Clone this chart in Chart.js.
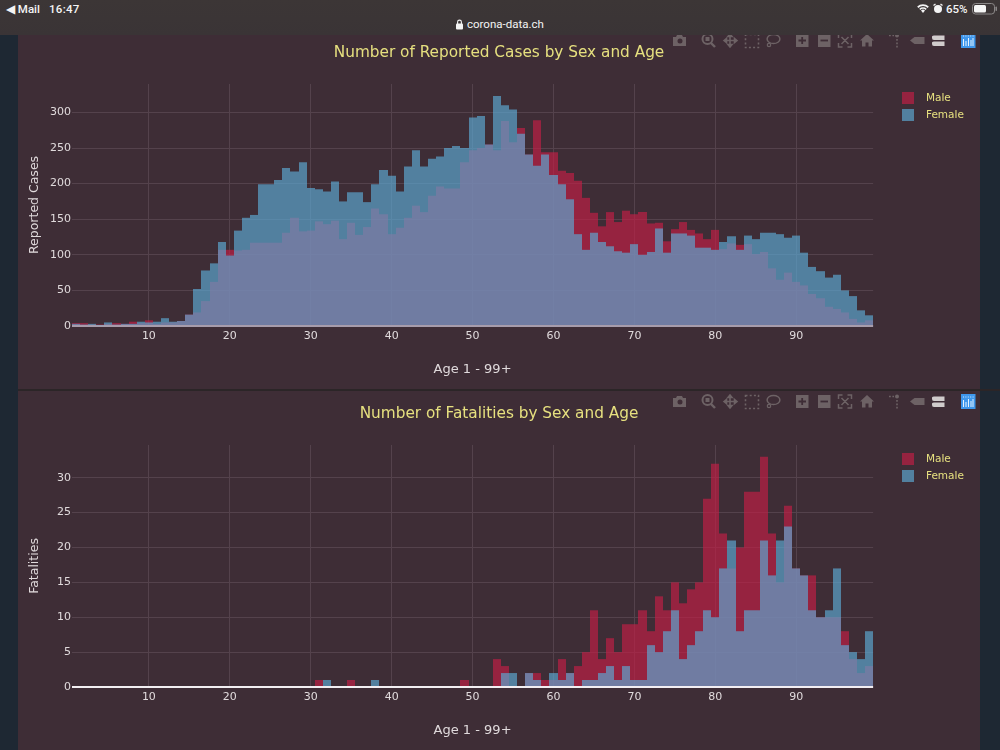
<!DOCTYPE html>
<html><head><meta charset="utf-8">
<script src="https://cdn.jsdelivr.net/npm/chart.js@4/dist/chart.umd.min.js"></script>
<style>
html,body{margin:0;padding:0;width:1000px;height:750px;overflow:hidden;background:#1e2833;font-family:"DejaVu Sans",sans-serif}
.panel{position:absolute;left:18px;width:962px;background:#3e2d36}
#p1{top:0;height:389px}#p2{top:391px;height:359px}
#divider{position:absolute;left:18px;width:982px;top:389px;height:2px;background:#2b2527}
canvas{position:absolute;left:18px;display:block}
#c1{top:29px}#c2{top:391px}
#status{position:absolute;left:0;top:0;width:1000px;height:35px;background:linear-gradient(#3c3636,#3a3436);color:#f4f4f4;font-family:Roboto,sans-serif;font-size:11.5px;font-weight:500}
#status span{position:absolute;top:2px;white-space:nowrap}
svg.mb{position:absolute;left:0;width:1000px;height:24px}
</style></head><body>
<div class="panel" id="p1"></div><div class="panel" id="p2"></div><div id="divider"></div>
<canvas id="c1"></canvas><canvas id="c2"></canvas>
<svg class="mb" style="top:29px" id="mb1"></svg><svg class="mb" style="top:390px" id="mb2"></svg>
<div id="status">
<span style="left:6px">&#9664; Mail</span><span style="left:49px;letter-spacing:.3px">16:47</span>
<span style="left:467px;top:17px;font-weight:400;font-size:11.5px">corona-data.ch</span>
<svg style="position:absolute;left:455px;top:19px" width="9" height="11"><rect x="1" y="4.5" width="7" height="6" rx="1" fill="#f4f4f4"/><path d="M2.6 5V3a1.9 1.9 0 0 1 3.8 0v2" fill="none" stroke="#f4f4f4" stroke-width="1.1"/></svg>
<svg style="position:absolute;left:916px;top:3px" width="14" height="11"><path d="M7 10 L5 7.5 A3 3 0 0 1 9 7.5Z M3.3 5.8 A5.5 5.5 0 0 1 10.7 5.8 L9.7 7 A4 4 0 0 0 4.3 7Z M1.2 3.6 A8.5 8.5 0 0 1 12.8 3.6 L11.7 4.9 A7 7 0 0 0 2.3 4.9Z" fill="#f4f4f4"/></svg>
<svg style="position:absolute;left:932px;top:3px" width="12" height="11"><circle cx="6" cy="6" r="4" fill="#f4f4f4"/><path d="M1.5 2.5 L3.5 1 M10.5 2.5 L8.5 1" stroke="#f4f4f4" stroke-width="1.4"/></svg>
<span style="left:946px">65%</span>
<svg style="position:absolute;left:972px;top:3px" width="26" height="12"><rect x=".5" y=".5" width="22" height="10.5" rx="3" fill="none" stroke="#8a8787"/><rect x="2" y="2" width="12" height="7.5" rx="1.5" fill="#f6f6f6"/><rect x="23.5" y="3.5" width="1.5" height="4.5" rx=".7" fill="#8a8787"/></svg>
</div>
<script>
const ages = [1,2,3,4,5,6,7,8,9,10,11,12,13,14,15,16,17,18,19,20,21,22,23,24,25,26,27,28,29,30,31,32,33,34,35,36,37,38,39,40,41,42,43,44,45,46,47,48,49,50,51,52,53,54,55,56,57,58,59,60,61,62,63,64,65,66,67,68,69,70,71,72,73,74,75,76,77,78,79,80,81,82,83,84,85,86,87,88,89,90,91,92,93,94,95,96,97,98,99];
const casesMale = [4,4,2,2,3,4,3,6,4,8,3,5,5,7,16,19,35,62,107,107,106,107,117,117,117,117,131,152,133,134,147,143,148,122,145,128,139,165,157,129,138,152,169,160,183,196,193,193,230,247,250,255,247,288,258,278,241,289,244,244,218,215,204,180,159,140,160,146,162,157,160,144,145,119,136,146,135,130,122,135,108,116,114,115,101,104,81,65,75,62,57,45,39,27,24,19,10,5,8];
const casesFemale = [3,2,3,1,5,2,3,3,6,5,6,11,6,7,16,52,78,88,118,99,134,152,156,199,199,205,222,217,230,194,192,189,203,175,188,188,174,199,219,211,189,224,247,224,235,238,250,253,250,293,295,255,323,310,304,270,241,225,241,212,199,178,129,107,131,118,112,105,103,115,100,104,137,103,130,130,127,110,110,107,118,126,107,127,122,131,131,129,124,127,103,83,77,68,72,50,42,22,15];
const deathsMale = [0,0,0,0,0,0,0,0,0,0,0,0,0,0,0,0,0,0,0,0,0,0,0,0,0,0,0,0,0,0,1,0,0,0,1,0,0,0,0,0,0,0,0,0,0,0,0,0,1,0,0,0,4,3,0,0,2,2,1,1,4,2,3,5,11,4,7,5,9,9,11,8,13,11,15,12,14,15,27,32,22,17,20,28,28,33,22,15,26,17,16,16,10,10,10,8,4,2,3];
const deathsFemale = [0,0,0,0,0,0,0,0,0,0,0,0,0,0,0,0,0,0,0,0,0,0,0,0,0,0,0,0,0,0,0,1,0,0,0,0,0,1,0,0,0,0,0,0,0,0,0,0,0,0,0,0,0,2,2,0,2,1,0,2,1,2,0,1,1,2,3,1,3,1,1,6,5,8,11,4,6,8,11,10,17,21,8,11,11,21,16,21,23,17,16,11,10,11,17,6,5,4,8];
const yTicksCases = [0,50,100,150,200,250,300];
const yTicksDeaths = [0,5,10,15,20,25,30];
const xTickAges = [10,20,30,40,50,60,70,80,90];

const panelColor='#3e2d36', gridColor='#54424c', tickColor='#e0dadc', yellow='#e6e07f';
const font='"DejaVu Sans", sans-serif';
const W=962,PLOT_L=54;

const place={id:'place',
  afterLayout(c){
    const l=c.legend;
    l.left=879;l.right=W;l.top=c.canvas.id==='c1'?58:57;l.bottom=l.top+60;
    c.titleBlock.left=0;c.titleBlock.right=W;
  },
  beforeDatasetsDraw(c){
    c.getSortedVisibleDatasetMetas().forEach(m=>m.data.forEach(el=>{
      const a=Math.round(el.x-el.width/2),b=Math.round(el.x+el.width/2);
      el.x=(a+b)/2;el.width=b-a;
    }));
  }
};

function makeChart(id,H,titleTop,title,yLabel,male,female,yMax,yTicks,zeroColor){
  const el=document.getElementById(id);
  el.style.width=W+'px';el.style.height=H+'px';el.width=W;el.height=H;
  new Chart(el,{type:'bar',plugins:[place],
   data:{labels:ages,datasets:[
    {label:'Male',data:male,backgroundColor:'rgba(196,30,70,0.66)',order:2,barPercentage:1,categoryPercentage:1,borderWidth:0,inflateAmount:0},
    {label:'Female',data:female,backgroundColor:'rgba(92,172,214,0.66)',order:1,barPercentage:1,categoryPercentage:1,borderWidth:0,inflateAmount:0}
   ]},
   options:{responsive:false,animation:false,devicePixelRatio:1,
    datasets:{bar:{grouped:false}},
    layout:{padding:{left:0,right:30,top:0,bottom:12}},
    plugins:{
     title:{display:true,text:title,color:yellow,font:{family:font,size:15.3,weight:'normal'},padding:{top:titleTop,bottom:21.6}},
     legend:{display:true,position:'right',align:'start',
       labels:{color:yellow,font:{family:font,size:10.5},boxWidth:12,boxHeight:12,padding:5,
         sort:(a,b)=>a.datasetIndex-b.datasetIndex,
         generateLabels(c){
           const base=Chart.defaults.plugins.legend.labels.generateLabels(c);
           base.forEach(i=>{i.text='  '+i.text;});
           return base;
         }}},
     tooltip:{enabled:false}
    },
    scales:{
     x:{type:'category',offset:true,
       grid:{color:gridColor,lineWidth:1,offset:false,drawTicks:false},
       border:{display:false},
       afterBuildTicks(s){s.ticks=s.ticks.filter(t=>xTickAges.includes(ages[t.value]));},
       ticks:{color:tickColor,font:{family:font,size:11},autoSkip:false,maxRotation:0,padding:4,
         callback(v){return ages[v];}},
       title:{display:true,text:'Age 1 - 99+',color:tickColor,font:{family:font,size:13},padding:{top:14,bottom:0}},
       afterFit(s){s.height=51;}
     },
     y:{min:0,max:yMax,
       grid:{drawTicks:false,color:c=>c.tick.value===0?zeroColor:gridColor,lineWidth:c=>c.tick.value===0?2:1},
       border:{display:false},
       afterBuildTicks(s){s.ticks=yTicks.map(v=>({value:v}));},
       ticks:{color:tickColor,font:{family:font,size:11},padding:1,includeBounds:false},
       title:{display:true,text:yLabel,color:tickColor,font:{family:font,size:12.5},padding:{top:9,bottom:0}},
       afterFit(s){s.width=PLOT_L;}
     }
    }
   }
  });
}
makeChart('c1',360,15,'Number of Reported Cases by Sex and Age','Reported Cases',casesMale,casesFemale,340,yTicksCases,'#a79cab');
makeChart('c2',359,14,'Number of Fatalities by Sex and Age','Fatalities',deathsMale,deathsFemale,34.7,yTicksDeaths,'#f2eef2');

const g='#6d6265', g2='#d0cccc';
const icons=`
<path d="M673 8h3l1-2h5l1 2h3v9h-13z M680 14.5a2.5 2.5 0 1 0 0-5a2.5 2.5 0 0 0 0 5z" fill="${g}" fill-rule="evenodd"/>
<circle cx="707.5" cy="10" r="5" fill="none" stroke="${g}" stroke-width="2"/><rect x="705.5" y="8" width="4" height="4" fill="${g}"/><path d="M711 14l4 4" stroke="${g}" stroke-width="2.4"/>
<path d="M730 5v13M724 11.5h13M730 5l-2 2.5h4zM730 18l-2-2.5h4zM724 11.5l2.5-2v4zM737 11.5l-2.5-2v4z" fill="${g}" stroke="${g}" stroke-width="1.6"/>
<rect x="745.5" y="5.5" width="13" height="13" fill="none" stroke="${g}" stroke-width="1.6" stroke-dasharray="2 2.2"/>
<ellipse cx="773.5" cy="10" rx="6.4" ry="4.6" fill="none" stroke="${g}" stroke-width="1.5"/><circle cx="769" cy="16" r="1.7" fill="none" stroke="${g}" stroke-width="1.2"/>
<rect x="796" y="5" width="12.5" height="13" fill="${g}"/><path d="M798.5 11.5h7.5M802.2 8v7" stroke="${panelColor}" stroke-width="1.8"/>
<rect x="818" y="5" width="12.5" height="13" fill="${g}"/><path d="M820.5 11.5h7.5" stroke="${panelColor}" stroke-width="1.8"/>
<path d="M838.5 9V5h4M851.5 9V5h-4M838.5 14v4h4M851.5 14v4h-4M841.5 8l7 7M848.5 8l-7 7" fill="none" stroke="${g}" stroke-width="1.5"/>
<path d="M867 5l7 6.5h-2v6h-3.5v-4h-3v4H862v-6h-2z" fill="${g}"/>
<circle cx="897" cy="6.5" r="2" fill="${g}"/><path d="M889 6.5h5M897 10v9" stroke="${g}" stroke-width="1.6" stroke-dasharray="1.8 1.6"/>
<path d="M910 11.5l4.5-3.5h10v7h-10z" fill="${g}"/>
<path d="M934 6.5h10.5v4.5H934a2 2 0 0 1-2-2.2A2 2 0 0 1 934 6.5zM934 12.5h10.5V17H934a2 2 0 0 1-2-2.2A2 2 0 0 1 934 12.5z" fill="${g2}"/>
<rect x="961" y="4" width="14.5" height="15" fill="#3f97ec"/><path d="M963.5 10v7M966 12v5M968.5 9v8M971 11v6M973 9v8" stroke="#e8f3ff" stroke-width="1"/><path d="M963 7h11" stroke="#cfe5fb" stroke-width="1" stroke-dasharray="1 1.4"/>`;
document.getElementById('mb1').innerHTML=icons;
document.getElementById('mb2').innerHTML=icons;
</script>
</body></html>
